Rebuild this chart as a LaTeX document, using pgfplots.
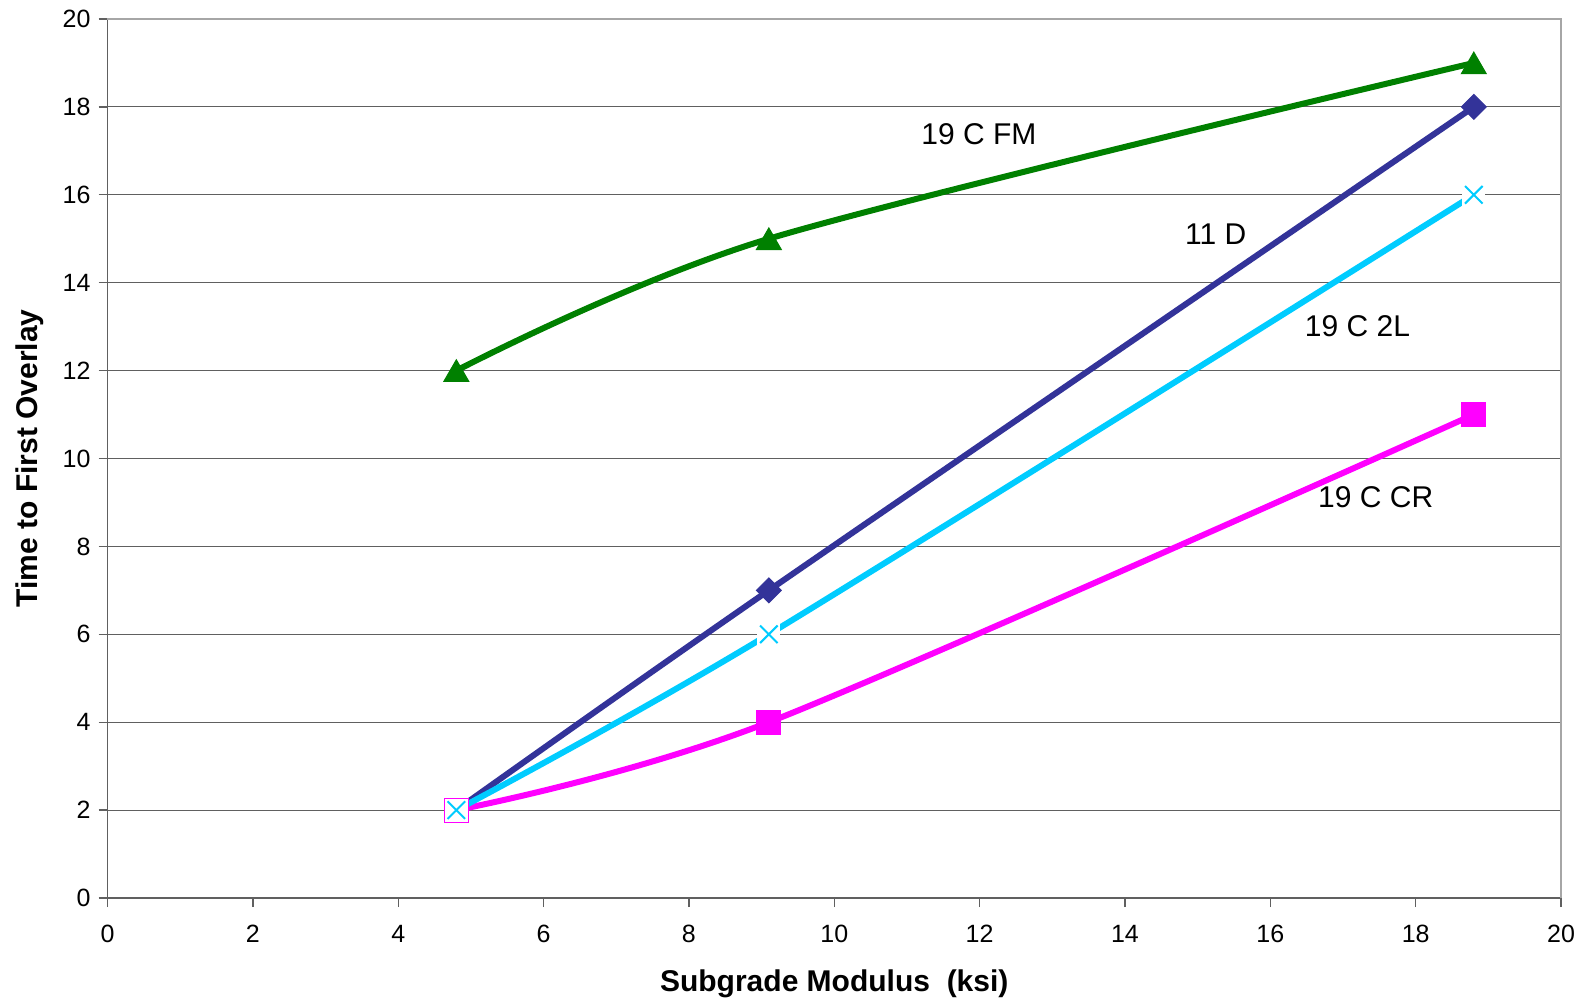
\documentclass[border=0pt]{standalone}
\usepackage{pgfplots}
\pgfplotsset{compat=1.18}
\usepackage{fontspec}
\setmainfont{Liberation Sans}
\definecolor{cfm}{HTML}{008000}
\definecolor{cd}{HTML}{333399}
\definecolor{c2l}{HTML}{00CCFF}
\definecolor{ccr}{HTML}{FF00FF}
\definecolor{gridc}{HTML}{606060}
\begin{document}
\begin{tikzpicture}
\useasboundingbox (-53.75pt,-52pt) rectangle (741.75pt,449pt);
\begin{axis}[
  scale only axis,
  width=726.75pt, height=439.5pt,
  xmin=0, xmax=20, ymin=0, ymax=20,
  xtick={0,2,...,20}, ytick={0,2,...,20},
  axis lines=left,
  axis line style={-, draw=gridc, line width=0.8pt},
  tick align=outside,
  major tick length=4.5pt,
  tick style={draw=gridc, line width=0.7pt},
  ymajorgrids,
  grid style={draw=gridc, line width=0.6pt},
  /pgf/number format/assume math mode=true,
  ticklabel style={font=\fontsize{12.5}{14}\selectfont},
  xticklabel style={yshift=-5.5pt},
  yticklabel style={xshift=-0.5pt},
  every axis x label/.style={at={(axis description cs:0.5,0)}, anchor=center, yshift=-43pt},
  every axis y label/.style={at={(axis description cs:0,0.5)}, anchor=center, xshift=-39pt, rotate=90},
  label style={font=\fontsize{15}{17}\selectfont\bfseries},
  xlabel={Subgrade Modulus\ \ (ksi)},
  ylabel={Time to First Overlay},
  clip=false,
]
\draw[draw=gray!70, line width=0.8pt] (rel axis cs:0,1) -- (rel axis cs:1,1) -- (rel axis cs:1,0);
% 11 D
\addplot[cd, line width=3pt, smooth, mark=square*, mark indices={2,3},
  mark options={solid, fill=cd, draw=cd, line width=0.5pt, rotate=45, mark size=4.4pt}]
  coordinates {(4.8,2) (9.1,7) (18.8,18)};
% 19 C CR
\addplot[ccr, line width=3pt, smooth, mark=square*, mark indices={2,3},
  mark options={solid, fill=ccr, draw=ccr, line width=0.5pt, mark size=6pt}]
  coordinates {(4.8,2) (9.1,4) (18.8,11)};
% 19 C 2L
\addplot[c2l, line width=3pt, smooth, no markers]
  coordinates {(4.8,2) (9.1,6) (18.8,16)};
% 19 C FM
\addplot[cfm, line width=3pt, smooth, mark=triangle*,
  mark options={solid, fill=cfm, draw=cfm, line width=0.5pt, mark size=7.2pt, yshift=-1.8pt}]
  coordinates {(4.8,12) (9.1,15) (18.8,19)};
% open square at first point
\addplot[ccr, only marks, mark=square*, mark options={fill=white, draw=ccr, line width=0.5pt, mark size=6pt}]
  coordinates {(4.8,2)};
% X markers with white background
\addplot[white, only marks, mark=square*, mark options={fill=white, draw=white, mark size=5.5pt}]
  coordinates {(9.1,6) (18.8,16)};
\addplot[c2l, only marks, mark=x, mark options={draw=c2l, line width=1pt, mark size=6.2pt}]
  coordinates {(4.8,2) (9.1,6) (18.8,16)};
\node[font=\fontsize{15}{17}\selectfont] at (axis cs:11.99,17.38) {19 C FM};
\node[font=\fontsize{15}{17}\selectfont] at (axis cs:15.25,15.10) {11 D};
\node[font=\fontsize{15}{17}\selectfont] at (axis cs:17.20,13.0) {19 C 2L};
\node[font=\fontsize{15}{17}\selectfont] at (axis cs:17.45,9.12) {19 C CR};
\end{axis}
\end{tikzpicture}
\end{document}
